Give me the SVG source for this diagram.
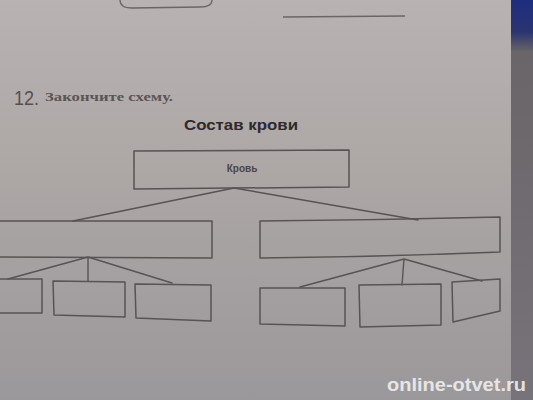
<svg xmlns="http://www.w3.org/2000/svg" width="533" height="400" viewBox="0 0 533 400">
<defs>
<linearGradient id="paper" x1="0" y1="0" x2="0" y2="1">
<stop offset="0" stop-color="#b8b3b2"/>
<stop offset="0.45" stop-color="#aca6a5"/>
<stop offset="1" stop-color="#9b989b"/>
</linearGradient>
<linearGradient id="edge" x1="0" y1="0" x2="0" y2="1">
<stop offset="0" stop-color="#1f2d80"/>
<stop offset="0.08" stop-color="#2a3470"/>
<stop offset="0.13" stop-color="#6a6568"/>
<stop offset="1" stop-color="#77737a"/>
</linearGradient>
<style>
.box{fill:none;stroke:#585354;stroke-width:1.5;stroke-linejoin:round}
.ln{fill:none;stroke:#585354;stroke-width:1.4;stroke-linecap:round}
.pen{fill:none;stroke:#6a6668;stroke-width:1.3}
.t{font-family:"Liberation Sans","DejaVu Sans",sans-serif;fill:#3a3637}
</style>
</defs>
<rect width="533" height="400" fill="url(#paper)"/>
<rect x="511" y="0" width="22" height="400" fill="url(#edge)"/>
<path class="pen" d="M120,0 Q120,8 132,8 L200,7 Q212,7 212,0"/>
<line class="pen" x1="283" y1="17" x2="405" y2="16"/>
<text x="14" y="105" class="t" font-size="21" fill="#55504f" textLength="25" lengthAdjust="spacingAndGlyphs" style="fill:#55504f">12.</text>
<text x="45" y="101" font-family="Liberation Serif,serif" font-weight="bold" font-size="12" fill="#5a5556" textLength="128" lengthAdjust="spacingAndGlyphs">Закончите схему.</text>
<text x="241" y="130" class="t" font-size="14" font-weight="bold" text-anchor="middle" textLength="114" lengthAdjust="spacingAndGlyphs" style="fill:#2e2a2b">Состав крови</text>
<g id="connectors">
<path class="ln" d="M234,188 L73,221 M234,188 L418,220"/>
<path class="ln" d="M88,257 L8,279 M88,257 L88,281 M88,257 L172,283"/>
<path class="ln" d="M404,259 L300,287 M404,259 L402,285 M404,259 L482,281"/>
</g>
<g id="root">
<path class="box" d="M134,151 L349,150 L349,187 L134,189 Z"/>
<text x="242" y="172" class="t" font-size="10" font-weight="bold" text-anchor="middle" style="fill:#4a4546">Кровь</text>
</g>
<g id="mid-left"><path class="box" d="M-2,221 L212,221 L212,258 L-2,257 Z"/></g>
<g id="mid-right"><path class="box" d="M260,221 Q380,220 500,217 L500,252 Q380,257 260,258 Z"/></g>
<g id="leaf-1"><path class="box" d="M-2,279 L42,279 L42,313 L-2,313 Z"/></g>
<g id="leaf-2"><path class="box" d="M53,281 L125,282 L125,317 L54,315 Z"/></g>
<g id="leaf-3"><path class="box" d="M135,284 L211,285 L211,321 L136,318 Z"/></g>
<g id="leaf-4"><path class="box" d="M260,288 L345,288 L345,326 L260,324 Z"/></g>
<g id="leaf-5"><path class="box" d="M359,285 L441,284 L441,325 L360,327 Z"/></g>
<g id="leaf-6"><path class="box" d="M452,282 L500,279 L500,311 L453,322 Z"/></g>
<text x="387" y="391" font-family="Liberation Sans,sans-serif" font-weight="bold" font-size="19" fill="#f2f0f0" fill-opacity="0.9" textLength="139" lengthAdjust="spacingAndGlyphs">online-otvet.ru</text>
</svg>
